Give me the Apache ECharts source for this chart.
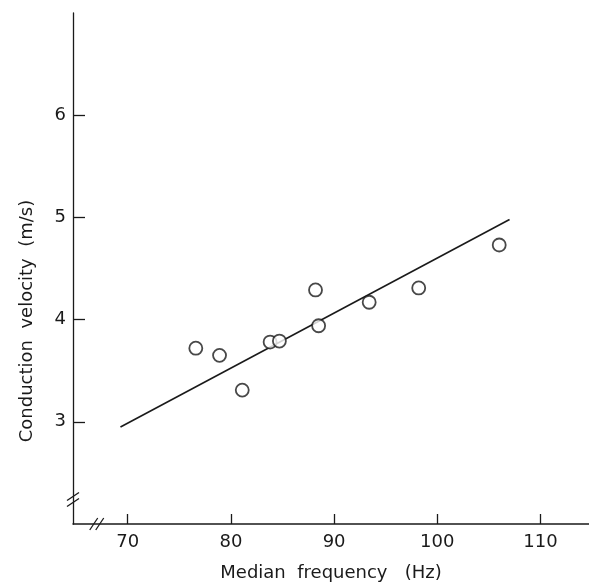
<!DOCTYPE html>
<html><head><meta charset="utf-8">
<script src="https://cdn.jsdelivr.net/npm/echarts@6/dist/echarts.min.js"></script>
<style>html,body{margin:0;padding:0;background:#fff}#c{width:589px;height:582px}</style>
</head><body><div id="c"></div>
<script>
const freq = [76.6, 78.9, 81.1, 83.8, 84.7, 88.2, 88.5, 93.4, 98.2, 106.0];
const velocity = [3.72, 3.65, 3.31, 3.78, 3.79, 4.29, 3.94, 4.17, 4.31, 4.73];
const fitX = [69.3, 107.0];
const fitY = [2.95, 4.98];
const xTicks = [70, 80, 90, 100, 110];
const yTicks = [3, 4, 5, 6];

const chart = echarts.init(document.getElementById('c'));
const font = 'DejaVu Sans';
const ink = '#1a1a1a';
chart.setOption({
  animation: false,
  backgroundColor: '#fff',
  grid: {left: 73, right: 0, top: 13, bottom: 58, outerBoundsMode: 'none', containLabel: false},
  xAxis: {
    type: 'value', min: 64.7, max: 114.7,
    name: 'Median  frequency   (Hz)', nameLocation: 'middle', nameGap: 40,
    nameTextStyle: {fontFamily: font, fontSize: 18, color: ink},
    axisLine: {show: true, lineStyle: {color: ink, width: 1.5}},
    axisTick: {show: true, inside: true, length: 10, lineStyle: {color: ink, width: 1.3}, customValues: xTicks},
    axisLabel: {fontFamily: font, fontSize: 18, color: ink, margin: 9, customValues: xTicks},
    splitLine: {show: false}
  },
  yAxis: {
    type: 'value', min: 2, max: 7,
    axisLine: {show: true, lineStyle: {color: ink, width: 1.3}},
    axisTick: {show: true, inside: true, length: 12, lineStyle: {color: ink, width: 1.3}, customValues: yTicks},
    axisLabel: {fontFamily: font, fontSize: 18, color: ink, margin: 7, customValues: yTicks},
    splitLine: {show: false}
  },
  series: [
    {type: 'line', data: fitX.map((x, i) => [x, fitY[i]]), symbol: 'none',
     lineStyle: {color: ink, width: 1.7}, z: 2},
    {type: 'scatter', data: freq.map((x, i) => [x, velocity[i]]), symbol: 'circle', symbolSize: 13,
     itemStyle: {color: '#fff', borderColor: ink, borderWidth: 1.8}, z: 3}
  ]
});

// axis break marks and rotated y-axis title
const yb = chart.convertToPixel({gridIndex: 0}, [64.7, 2.24]);
const xb = chart.convertToPixel({gridIndex: 0}, [67.0, 2]);
function brk(cx, cy, vertical) {
  const els = [];
  for (const d of [-3, 3]) {
    if (vertical) {
      els.push({type: 'line', shape: {x1: cx - 6, y1: cy + d + 4, x2: cx + 6, y2: cy + d - 4},
        style: {stroke: ink, lineWidth: 1.3}});
    } else {
      els.push({type: 'line', shape: {x1: cx + d - 4, y1: cy + 6, x2: cx + d + 4, y2: cy - 6},
        style: {stroke: ink, lineWidth: 1.3}});
    }
  }
  return els;
}
const gfx = brk(yb[0], yb[1], true).concat(brk(xb[0], xb[1], false));
gfx.push({type: 'text', x: 27, y: 321, rotation: Math.PI / 2,
  style: {text: 'Conduction  velocity  (m/s)', font: '18px "DejaVu Sans"', fill: ink,
          align: 'center', verticalAlign: 'middle'}});
chart.setOption({graphic: gfx});
</script></body></html>
